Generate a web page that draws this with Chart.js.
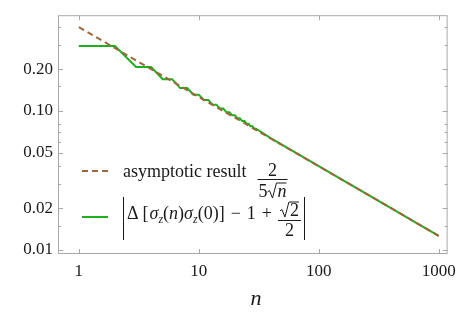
<!DOCTYPE html>
<html>
<head>
<meta charset="utf-8">
<script src="https://cdn.jsdelivr.net/npm/chart.js@4"></script>
<style>
html, body { margin: 0; padding: 0; background: #fff; }
#wrap { width: 463px; height: 313px; }
</style>
</head>
<body>
<div id="wrap"><canvas id="chart" width="463" height="313"></canvas></div>
<script>
// asymptotic curve 2/(5 sqrt n)
const nDash = [1, 2, 5, 10, 20, 50, 100, 200, 500, 1000];
const yDash = [0.4, 0.283, 0.179, 0.126, 0.0894, 0.0566, 0.04, 0.0283, 0.0179, 0.01265];

// exact correlator (staircase for small n)
const nGreen = [1, 2, 3, 4, 5, 6, 7, 8, 9, 10, 11, 12, 13, 14, 15, 16, 17, 18, 19, 20,
                21, 22, 23, 24, 25, 26, 27, 28, 29, 30, 40, 60, 100, 200, 400, 700, 1000];
const yGreen = [0.293, 0.293, 0.207, 0.207, 0.169, 0.169, 0.146, 0.146, 0.131, 0.131,
                0.120, 0.120, 0.111, 0.111, 0.104, 0.104, 0.098, 0.098, 0.093, 0.093,
                0.0885, 0.0885, 0.0845, 0.0845, 0.081, 0.081, 0.0775, 0.0775, 0.0745, 0.0745,
                0.0635, 0.0518, 0.0401, 0.0283, 0.02, 0.0151, 0.01265];

const xTickVals = [1, 10, 100, 1000];
const xTickLabels = ['1', '10', '100', '1000'];
const yTickVals = [0.01, 0.02, 0.05, 0.1, 0.2];
const yTickLabels = ['0.01', '0.02', '0.05', '0.10', '0.20'];
const yMinorVals = [0.015, 0.03, 0.04, 0.06, 0.07, 0.08, 0.15, 0.3, 0.4];

const SERIF = "'Liberation Serif', 'DejaVu Serif', serif";
const TEXT = '#1a1a1a';
const FRAME = '#a8a8a8';
const BROWN = '#a0663a';
const GREEN = '#1fae1f';

// frame with inward ticks, Mathematica style
const framePlugin = {
    id: 'frame',
    beforeDatasetsDraw(chart) {
        const { ctx, chartArea: a, scales: { x, y } } = chart;
        ctx.save();
        ctx.strokeStyle = FRAME;
        ctx.lineWidth = 1;
        ctx.strokeRect(a.left + 0.5, a.top + 0.5, a.right - a.left - 1, a.bottom - a.top - 1);
        ctx.beginPath();
        xTickVals.forEach(v => {
            const px = Math.round(x.getPixelForValue(v)) + 0.5;
            ctx.moveTo(px, a.bottom); ctx.lineTo(px, a.bottom - 5);
            ctx.moveTo(px, a.top); ctx.lineTo(px, a.top + 5);
        });
        const yTick = (v, len) => {
            const py = Math.round(y.getPixelForValue(v)) + 0.5;
            ctx.moveTo(a.left, py); ctx.lineTo(a.left + len, py);
            ctx.moveTo(a.right, py); ctx.lineTo(a.right - len, py);
        };
        yTickVals.forEach(v => yTick(v, 5));
        yMinorVals.forEach(v => yTick(v, 3));
        ctx.stroke();
        ctx.restore();
    }
};

// draw a run of text pieces, returns end x
function drawRun(ctx, x, base, parts) {
    parts.forEach(p => {
        ctx.font = p.font;
        ctx.fillText(p.t, x, base + (p.dy || 0));
        x += ctx.measureText(p.t).width + (p.gap || 0);
    });
    return x;
}

function radical(ctx, x0, base, w) {
    ctx.beginPath();
    ctx.moveTo(x0, base - 5);
    ctx.lineTo(x0 + 2, base - 6.5);
    ctx.lineTo(x0 + 5, base + 1);
    ctx.lineTo(x0 + 9, base - 14);
    ctx.lineTo(x0 + 10 + w, base - 14);
    ctx.stroke();
    return x0 + 10;
}

const legendPlugin = {
    id: 'mathLegend',
    afterDraw(chart) {
        const { ctx } = chart;
        const up = '18px ' + SERIF;
        const it = 'italic 18px ' + SERIF;
        const sub = 'italic 12px ' + SERIF;
        ctx.save();
        ctx.lineCap = 'butt';

        // row 1: dashed sample
        ctx.strokeStyle = BROWN;
        ctx.lineWidth = 2;
        ctx.setLineDash([6, 4]);
        ctx.beginPath(); ctx.moveTo(82, 171); ctx.lineTo(108, 171); ctx.stroke();
        ctx.setLineDash([]);

        ctx.fillStyle = TEXT;
        ctx.strokeStyle = TEXT;
        ctx.lineWidth = 1;
        ctx.textBaseline = 'alphabetic';
        ctx.textAlign = 'left';
        let x = drawRun(ctx, 123, 177, [{ t: 'asymptotic result', font: up, gap: 11 }]);
        // fraction 2 / (5 sqrt n)
        ctx.font = up;
        const w5 = ctx.measureText('5').width;
        ctx.font = it;
        const wn = ctx.measureText('n').width;
        const fw = w5 + 10 + wn + 2;
        ctx.fillRect(x, 179, fw, 1);
        ctx.textAlign = 'center';
        ctx.font = up;
        ctx.fillText('2', x + fw / 2, 176);
        ctx.textAlign = 'left';
        ctx.fillText('5', x + 1, 197);
        const rx = radical(ctx, x + 1 + w5, 197, wn);
        ctx.font = it;
        ctx.fillText('n', rx, 197);

        // row 2: green sample
        ctx.strokeStyle = GREEN;
        ctx.lineWidth = 2;
        ctx.beginPath(); ctx.moveTo(82, 217); ctx.lineTo(108, 217); ctx.stroke();

        ctx.strokeStyle = TEXT;
        ctx.lineWidth = 1;
        ctx.beginPath(); ctx.moveTo(123.5, 197); ctx.lineTo(123.5, 240); ctx.stroke();
        const b2 = 219;
        x = drawRun(ctx, 127, b2, [
            { t: 'Δ', font: up, gap: 4 },
            { t: '[', font: up, gap: 1 },
            { t: 'σ', font: it },
            { t: 'z', font: sub, dy: 4 },
            { t: '(', font: up },
            { t: 'n', font: it },
            { t: ')', font: up },
            { t: 'σ', font: it },
            { t: 'z', font: sub, dy: 4 },
            { t: '(0)]', font: up, gap: 6 },
            { t: '−', font: up, gap: 6 },
            { t: '1', font: up, gap: 6 },
            { t: '+', font: up, gap: 6 }
        ]);
        // fraction sqrt2 / 2
        ctx.font = up;
        const w2 = ctx.measureText('2').width;
        const fw2 = 10 + w2 + 4;
        ctx.fillRect(x, b2 + 1, fw2, 1);
        const rx2 = radical(ctx, x + 2, b2 - 3, w2);
        ctx.fillText('2', rx2, b2 - 3);
        ctx.textAlign = 'center';
        ctx.fillText('2', x + fw2 / 2, b2 + 17);
        ctx.textAlign = 'left';
        const xr = Math.round(x + fw2 + 3) + 0.5;
        ctx.beginPath(); ctx.moveTo(xr, 197); ctx.lineTo(xr, 240); ctx.stroke();

        // axis title
        ctx.font = 'italic 22px ' + SERIF;
        ctx.textAlign = 'center';
        ctx.fillText('n', 256, 305);
        ctx.restore();
    }
};

const tickFont = { family: SERIF, size: 17 };

new Chart(document.getElementById('chart'), {
    type: 'line',
    data: {
        datasets: [
            {
                label: 'asymptotic result',
                data: nDash.map((n, i) => ({ x: n, y: yDash[i] })),
                borderColor: BROWN,
                borderWidth: 2,
                borderDash: [6, 4],
                pointRadius: 0,
                tension: 0,
                fill: false
            },
            {
                label: 'correlator',
                data: nGreen.map((n, i) => ({ x: n, y: yGreen[i] })),
                borderColor: GREEN,
                borderWidth: 2,
                pointRadius: 0,
                tension: 0,
                fill: false
            }
        ]
    },
    options: {
        responsive: false,
        devicePixelRatio: 1,
        animation: false,
        layout: { padding: { top: 13, right: 12, left: 0, bottom: 0 } },
        plugins: { legend: { display: false }, tooltip: { enabled: false } },
        scales: {
            x: {
                type: 'logarithmic',
                min: 0.67,
                max: 1186,
                grid: { display: false, drawTicks: false },
                border: { display: false },
                afterBuildTicks: s => { s.ticks = xTickVals.map(v => ({ value: v })); },
                afterFit: s => { s.height = 59; },
                ticks: {
                    callback: v => xTickLabels[xTickVals.indexOf(v)],
                    font: tickFont,
                    color: TEXT,
                    padding: 7,
                    maxRotation: 0,
                    autoSkip: false
                }
            },
            y: {
                type: 'logarithmic',
                min: 0.00936,
                max: 0.488,
                grid: { display: false, drawTicks: false },
                border: { display: false },
                afterBuildTicks: s => { s.ticks = yTickVals.map(v => ({ value: v })); },
                afterFit: s => { s.width = 58; },
                ticks: {
                    callback: v => yTickLabels[yTickVals.indexOf(v)],
                    font: tickFont,
                    color: TEXT,
                    padding: 5,
                    autoSkip: false
                }
            }
        }
    },
    plugins: [framePlugin, legendPlugin]
});
</script>
</body>
</html>
